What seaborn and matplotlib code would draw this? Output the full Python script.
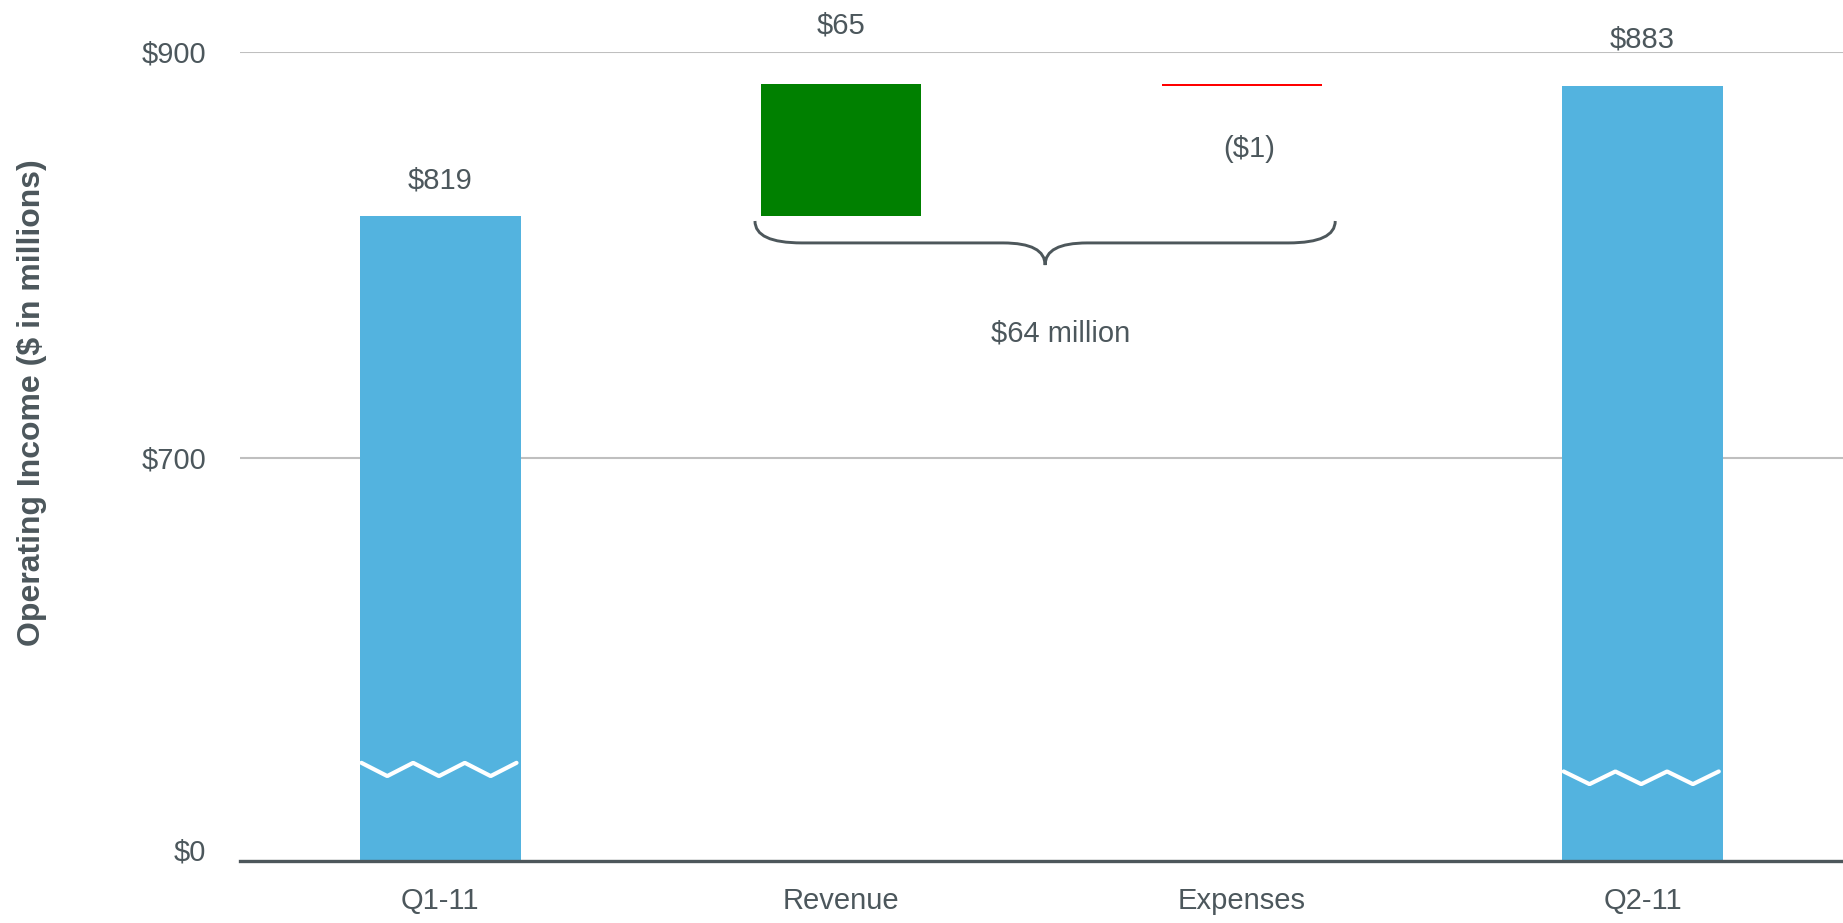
import numpy as np
import pandas as pd
import matplotlib
matplotlib.use("Agg")
import matplotlib.pyplot as plt
import seaborn as sns
from matplotlib.path import Path
from matplotlib.patches import PathPatch

# ---------------- data ----------------
categories = ["Q1-11", "Revenue", "Expenses", "Q2-11"]
start_value = 819
changes = [65, -1]
end_value = 883
tick_values = [0, 700, 900]
tick_labels = ["$0", "$700", "$900"]
value_labels = ["$819", "$65", "($1)", "$883"]
net_label = "$64 million"
bar_colors = ["#53b3df", "#008000", "#ff0000", "#53b3df"]
y_label = "Operating Income ($ in millions)"

# waterfall low / high of every bar
lows, highs = [0], [start_value]
running = start_value
for c in changes:
    new = running + c
    lows.append(min(running, new))
    highs.append(max(running, new))
    running = new
lows.append(0)
highs.append(end_value)

df = pd.DataFrame({"category": categories, "top": highs})

# ---------------- style ----------------
sns.set_theme(style="white")
plt.rcParams["font.family"] = ["Liberation Sans", "DejaVu Sans"]
text_color = "#4c575c"
axis_color = "#4d575b"

W, H = 1843, 923
fig = plt.figure(figsize=(W / 100, H / 100), dpi=100)
ax_left, ax_right, ax_top, ax_bottom = 240, 1843, 51.7, 860.7
ax = fig.add_axes([ax_left / W, (H - ax_bottom) / H,
                   (ax_right - ax_left) / W, (ax_bottom - ax_top) / H])

sns.barplot(data=df, x="category", y="top", hue="category", order=categories,
            hue_order=categories, palette=bar_colors, width=0.4, saturation=1,
            legend=False, ax=ax, zorder=2)

# floating bars: move their bottoms
for patch, lo, hi in zip(ax.patches, lows, highs):
    patch.set_y(lo)
    patch.set_height(hi - lo)
    patch.set_linewidth(0)

# broken axis scale: 0-700 compressed, 700-900 expanded
LOW_SPAN, HIGH_SPAN = 403.0, 406.0


def fwd(v):
    v = np.asarray(v, dtype=float)
    return np.where(v <= 700, v * LOW_SPAN / 700, LOW_SPAN + (v - 700) * HIGH_SPAN / 200)


def inv(u):
    u = np.asarray(u, dtype=float)
    return np.where(u <= LOW_SPAN, u * 700 / LOW_SPAN, 700 + (u - LOW_SPAN) * 200 / HIGH_SPAN)


ax.set_yscale("function", functions=(fwd, inv))
ax.set_ylim(0, 900)
ax.set_xlim(-0.5, 3.5)

# axis break zigzags on total bars
break_marks = {0: (147, 170), 3: (133, 155)}
for idx, (lo, hi) in break_marks.items():
    xs = idx + np.linspace(-0.197, 0.19, 7)
    ys = [hi if i % 2 == 0 else lo for i in range(7)]
    ax.plot(xs, ys, color="white", lw=3, zorder=3, solid_joinstyle="bevel")

# ticks, grid, spines
ax.set_yticks(tick_values, tick_labels)
ax.tick_params(axis="y", length=0, pad=24.5, labelsize=21, labelcolor=text_color)
ax.tick_params(axis="x", length=0, pad=19, labelsize=21, labelcolor=text_color)
ax.set_xlabel("")
ax.set_ylabel("")
ax.set_axisbelow(True)
ax.yaxis.grid(True, color="#bfbfbf", lw=1.5)
ax.xaxis.grid(False)
for s in ["top", "right", "left"]:
    ax.spines[s].set_visible(False)
ax.spines["bottom"].set_color(axis_color)
ax.spines["bottom"].set_linewidth(2.4)
ax.spines["bottom"].set_zorder(4)
ax.yaxis.get_major_ticks()[0].label1.set_verticalalignment("baseline")

fig.text(32 / W, 1 - 403 / H, y_label, rotation=90, ha="center", va="center",
         fontsize=23, fontweight="bold", color=text_color)

# value labels
label_offsets = [(0, 20), (0, 36.7), (5, -51), (0, 27.6)]
anchor_vals = [highs[0], highs[1], lows[2], highs[3]]
for i, (txt, off, yv) in enumerate(zip(value_labels, label_offsets, anchor_vals)):
    ax.annotate(txt, xy=(i, yv), xytext=off, textcoords="offset points",
                ha="center", va="baseline", fontsize=21, color=text_color,
                annotation_clip=False)

# curly brace under the change bars
x0 = 1 - 0.2 - 0.015
x1 = 2 + 0.2 + 0.033
xc = (x0 + x1) / 2
base = start_value
y_end, y_mid, y_tip = base - 2.4, base - 13.2, base - 24.1
d1, d2 = 0.117, 0.105
verts = [(x0, y_end), (x0, y_mid), (x0 + d1, y_mid),
         (xc - d2, y_mid),
         (xc, y_mid), (xc, y_tip),
         (xc, y_mid), (xc + d2, y_mid),
         (x1 - d1, y_mid),
         (x1, y_mid), (x1, y_end)]
codes = [Path.MOVETO, Path.CURVE3, Path.CURVE3,
         Path.LINETO,
         Path.CURVE3, Path.CURVE3,
         Path.CURVE3, Path.CURVE3,
         Path.LINETO,
         Path.CURVE3, Path.CURVE3]
ax.add_patch(PathPatch(Path(verts, codes), facecolor="none", edgecolor=axis_color,
                       lw=2.1, zorder=3, clip_on=False))
ax.annotate(net_label, xy=(xc, y_tip), xytext=(11.5, -55), textcoords="offset points",
            ha="center", va="baseline", fontsize=21, color=text_color)

fig.savefig("out.png", dpi=100)
